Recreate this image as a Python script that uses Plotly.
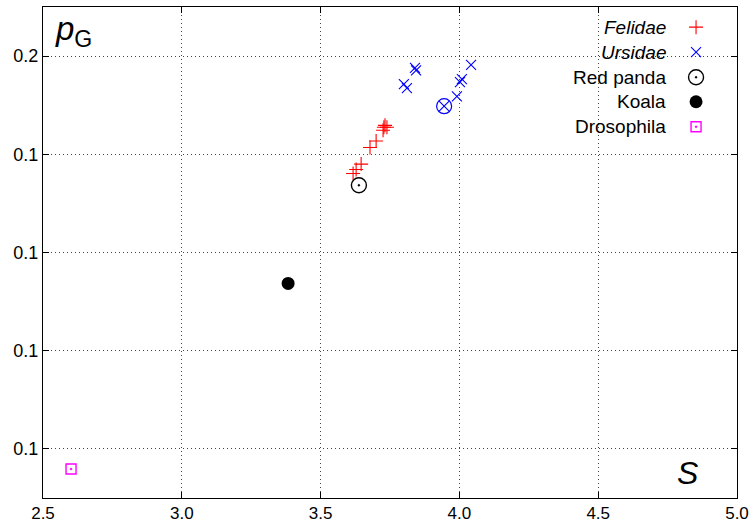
import plotly.graph_objects as go

# ---- data ----
felidae_s = [3.617, 3.628, 3.646, 3.678, 3.700, 3.725, 3.728, 3.739, 3.732]
felidae_p = [0.1361, 0.1369, 0.1380, 0.1414, 0.1427, 0.1449, 0.1455, 0.1455, 0.1459]
ursidae_s = [3.840, 3.844, 3.800, 3.811, 3.991, 4.002, 4.009, 4.042, 3.945]
ursidae_p = [0.1576, 0.1571, 0.1543, 0.1535, 0.1518, 0.1547, 0.1553, 0.1582, 0.1498]
giant_panda_s = [3.945]
giant_panda_p = [0.1498]
red_panda_s = [3.638]
red_panda_p = [0.1337]
koala_s = [3.383]
koala_p = [0.1137]
drosophila_s = [2.601]
drosophila_p = [0.0759]

legend_labels = ["<i>Felidae</i>", "<i>Ursidae</i>", "Red panda", "Koala", "Drosophila"]
x_range = [2.5, 5.0]
y_range = [0.07, 0.17]

FONT = "Liberation Sans, Arial, sans-serif"

fig = go.Figure()

styles = [
    dict(symbol="cross-thin-open", size=10, color="red", line=dict(color="red", width=1.1)),
    dict(symbol="x-thin-open", size=10, color="blue", line=dict(color="blue", width=1.1)),
    dict(symbol="circle-open-dot", size=15, color="black", line=dict(color="black", width=1.4)),
    dict(symbol="circle", size=13, color="black", line=dict(width=0)),
    dict(symbol="square-open-dot", size=10, color="magenta", line=dict(color="magenta", width=1.4)),
]

series = [(felidae_s, felidae_p), (ursidae_s, ursidae_p), (red_panda_s, red_panda_p),
          (koala_s, koala_p), (drosophila_s, drosophila_p)]

for (xs, ys), st, lab in zip(series, styles, legend_labels):
    fig.add_trace(go.Scatter(x=xs, y=ys, mode="markers", marker=st, name=lab,
                             showlegend=False, hoverinfo="x+y"))

# circle around the giant panda point
fig.add_trace(go.Scatter(x=giant_panda_s, y=giant_panda_p, mode="markers",
                         marker=dict(symbol="circle-open", size=15, color="blue",
                                     line=dict(color="blue", width=1.2)),
                         showlegend=False))

# manual legend (markers to the right of right-aligned text)
row_y = [0.959, 0.908, 0.857, 0.807, 0.756]
for st, lab, ry in zip(styles, legend_labels, row_y):
    fig.add_trace(go.Scatter(x=[0.941], y=[ry], mode="markers", marker=st,
                             xaxis="x2", yaxis="y2", showlegend=False, hoverinfo="skip"))
    fig.add_annotation(x=0.901, y=ry, xref="paper", yref="paper", text=lab,
                       showarrow=False, xanchor="right", yanchor="middle",
                       font=dict(family=FONT, size=19, color="black"))

# axis labels inside the plot
fig.add_annotation(x=0.015, y=0.997, xref="paper", yref="paper",
                   text="<i>p</i><sub>G</sub>", showarrow=False,
                   xanchor="left", yanchor="top",
                   font=dict(family=FONT, size=33, color="black"))
fig.add_annotation(x=0.929, y=0.051, xref="paper", yref="paper",
                   text="<i>S</i>", showarrow=False,
                   xanchor="center", yanchor="middle",
                   font=dict(family=FONT, size=32, color="black"))

axis_common = dict(showline=True, linecolor="black", linewidth=1, mirror="ticks",
                   ticks="inside", ticklen=6, tickcolor="black",
                   showgrid=True, gridcolor="#444444", griddash="1px,3px", gridwidth=1,
                   zeroline=False, automargin=False)

fig.update_layout(
    width=751, height=523,
    margin=dict(l=43, r=14, t=7, b=25),
    paper_bgcolor="white", plot_bgcolor="white",
    font=dict(family=FONT, size=18, color="black"),
    xaxis=dict(range=x_range, dtick=0.5, tick0=2.5, tickformat=".1f",
               tickfont=dict(family=FONT, size=17, color="black"), **axis_common),
    yaxis=dict(range=y_range, dtick=0.02, tick0=0.0, tickformat=".1f",
               tickfont=dict(family=FONT, size=18, color="black"), **axis_common),
    xaxis2=dict(range=[0, 1], overlaying="x", visible=False, fixedrange=True),
    yaxis2=dict(range=[0, 1], overlaying="y", visible=False, fixedrange=True),
    showlegend=False,
)

fig.write_html("out.html", config={"displayModeBar": False},
               post_script="document.body.style.margin='0';document.body.style.overflow='hidden';")
